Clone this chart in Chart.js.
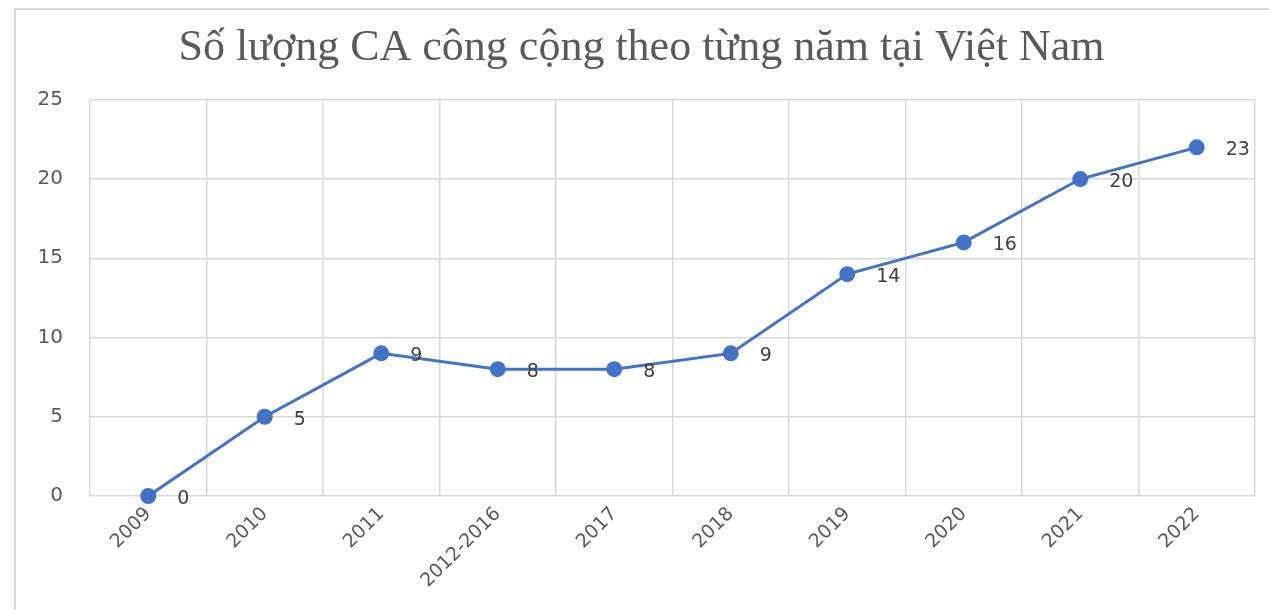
<!DOCTYPE html>
<html>
<head>
<meta charset="utf-8">
<script src="https://cdn.jsdelivr.net/npm/chart.js@4"></script>
<style>
  html, body { margin: 0; padding: 0; background: #fff; overflow: hidden; }
  #box {
    position: absolute; left: 14px; top: 8px;
    width: 1280px; height: 620px;
    border: 2px solid #d9d9d9; box-sizing: border-box;
  }
  #box canvas { position: absolute; left: 0; top: 0; }
</style>
</head>
<body>
<div id="box"><canvas id="chart" width="1276" height="616"></canvas></div>
<script>
const years = ["2009", "2010", "2011", "2012-2016", "2017", "2018", "2019", "2020", "2021", "2022"];
const caCount = [0, 5, 9, 8, 8, 9, 14, 16, 20, 22];
const valueLabels = ["0", "5", "9", "8", "8", "9", "14", "16", "20", "23"];
const yTicks = [0, 5, 10, 15, 20, 25];

const gray = "#595959";
const blue = "#4472C4";

// labels to the right of each point, like the Excel original
const pointLabels = {
    id: "pointLabels",
    afterDatasetsDraw(chart) {
        const ctx = chart.ctx;
        const meta = chart.getDatasetMeta(0);
        ctx.save();
        ctx.font = "19px 'DejaVu Sans'";
        ctx.fillStyle = "#404040";
        ctx.textAlign = "left";
        ctx.textBaseline = "middle";
        meta.data.forEach((pt, i) => {
            ctx.fillText(valueLabels[i], pt.x + 29, pt.y + 3);
        });
        ctx.restore();
    }
};

new Chart(document.getElementById("chart"), {
    type: "line",
    data: {
        labels: years,
        datasets: [{
            data: caCount,
            borderColor: blue,
            backgroundColor: blue,
            borderWidth: 3,
            pointRadius: 6.5,
            pointHoverRadius: 6.5,
            tension: 0,
            clip: false
        }]
    },
    options: {
        responsive: false,
        animation: false,
        layout: { padding: { left: 12, right: 37, top: 0, bottom: 0 } },
        plugins: {
            legend: { display: false },
            tooltip: { enabled: false },
            title: {
                display: true,
                text: "Số lượng CA công cộng theo từng năm tại Việt Nam",
                color: gray,
                font: { family: "'Liberation Serif'", size: 44, weight: "normal", lineHeight: 1.2 },
                padding: { top: 12, bottom: 25 }
            }
        },
        scales: {
            x: {
                offset: true,
                grid: { color: "#d9d9d9", lineWidth: 1.5, offset: true, drawTicks: false },
                border: { display: false },
                ticks: {
                    color: gray,
                    font: { family: "'DejaVu Sans'", size: 19 },
                    minRotation: 45,
                    maxRotation: 45,
                    autoSkip: false,
                    padding: 7
                },
                afterFit(axis) { axis.height = 130; }
            },
            y: {
                min: 0,
                max: 25,
                afterBuildTicks(axis) { axis.ticks = yTicks.map(v => ({ value: v })); },
                grid: { color: "#d9d9d9", lineWidth: 1.5, drawTicks: false },
                border: { display: false },
                ticks: {
                    color: gray,
                    font: { family: "'DejaVu Sans'", size: 20 },
                    padding: 27
                },
                afterFit(axis) { axis.width = 62; }
            }
        }
    },
    plugins: [pointLabels]
});
</script>
</body>
</html>
